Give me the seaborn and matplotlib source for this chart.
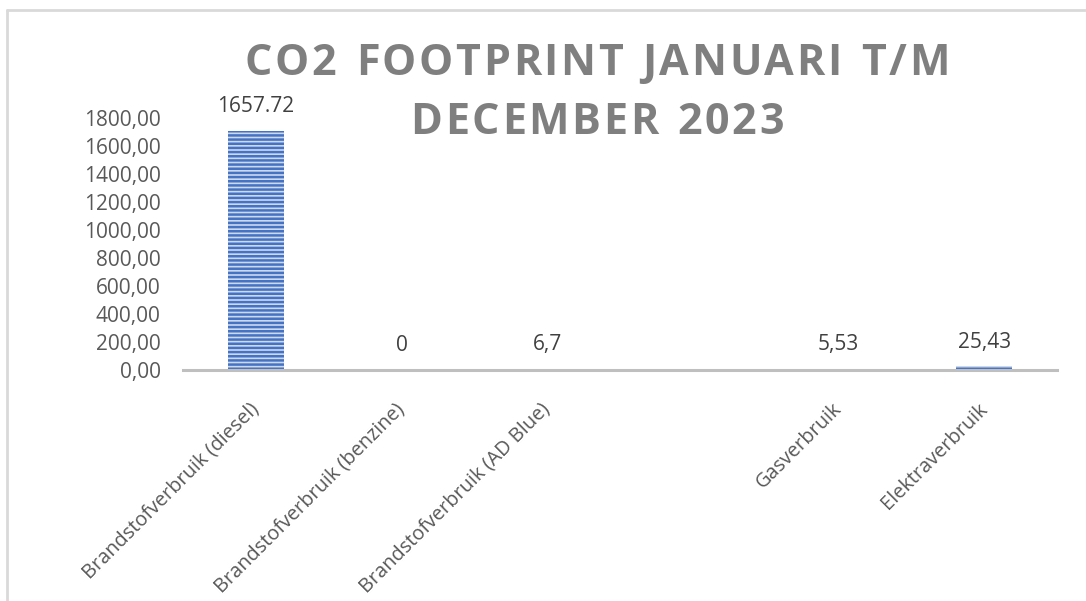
import matplotlib
matplotlib.use("Agg")
import matplotlib.pyplot as plt
from matplotlib.lines import Line2D
import seaborn as sns
import numpy as np
import pandas as pd

# --- data ---
categories = [
    'Brandstofverbruik (diesel)', 'Brandstofverbruik (benzine)',
    'Brandstofverbruik (AD Blue)', ' ', 'Gasverbruik', 'Elektraverbruik'
]
# bar heights as drawn (the diesel bar is drawn a bit above its label)
values = [1710.0, 0.0, 6.7, np.nan, 5.53, 25.43]
value_labels = ['1657.72', '0', '6,7', '', '5,53', '25,43']
y_ticks = [0, 200, 400, 600, 800, 1000, 1200, 1400, 1600, 1800]
title_lines = ['CO2 FOOTPRINT JANUARI T/M', 'DECEMBER 2023']

sns.set_theme(style='white')
plt.rcParams['font.family'] = ['Open Sans', 'DejaVu Sans']
plt.rcParams['hatch.linewidth'] = 1.8

df = pd.DataFrame({'categorie': categories, 'waarde': values})

fig = plt.figure(figsize=(10.86, 6.01), dpi=100)
ax = fig.add_axes([0.1685, 0.3844, 0.8048, 0.4193])

sns.barplot(data=df, x='categorie', y='waarde', order=categories,
            color='#c9d6f0', width=0.38, ax=ax, errorbar=None)

for p in ax.patches:
    p.set_hatch('----')
    p.set_edgecolor('#4472c4')
    p.set_linewidth(0)

# data labels
for i, (v, lab) in enumerate(zip(values, value_labels)):
    if lab == '':
        continue
    ax.annotate(lab, (i, v), xytext=(0, 10), textcoords='offset points',
                ha='center', va='bottom', fontsize=15, color='#404040')

ax.set_ylim(0, 1800)
ax.set_yticks(y_ticks)
ax.set_yticklabels([f'{t:.2f}'.replace('.', ',') for t in y_ticks],
                   fontsize=15, color='#595959')
ax.set_xticks(range(len(categories)))
ax.set_xticklabels(categories, rotation=45, ha='right', va='center',
                   rotation_mode='anchor', fontsize=14.3, color='#595959')
ax.tick_params(axis='y', length=0, pad=16)
ax.tick_params(axis='x', length=0, pad=26)
ax.set_xlabel('')
ax.set_ylabel('')

for s in ['top', 'right', 'left']:
    ax.spines[s].set_visible(False)
ax.spines['bottom'].set_color('#bfbfbf')
ax.spines['bottom'].set_linewidth(2.2)

# title with extra letter spacing (drawn char by char)
renderer = fig.canvas.get_renderer()
spacing = 2.6  # px between letters
for line, yc in zip(title_lines, [0.894, 0.796]):
    widths = []
    for ch in line:
        t = fig.text(0, 0, ch if ch != ' ' else 'n', fontsize=31, fontweight='bold')
        w = t.get_window_extent(renderer).width
        if ch == ' ':
            w *= 0.5
        widths.append(w)
        t.remove()
    total = sum(widths) + spacing * (len(line) - 1)
    x = 597 - total / 2
    for ch, w in zip(line, widths):
        fig.text(x / 1086, yc, ch, ha='left', va='center', fontsize=31,
                 fontweight='bold', color='#7f7f7f')
        x += w + spacing

# chart area border (top and left only visible)
fig.add_artist(Line2D([0.0065, 1.0], [0.984, 0.984], color='#d9d9d9', lw=2))
fig.add_artist(Line2D([0.0065, 0.0065], [0.0, 0.984], color='#d9d9d9', lw=2))

fig.savefig('out.png', dpi=100, facecolor='white')
